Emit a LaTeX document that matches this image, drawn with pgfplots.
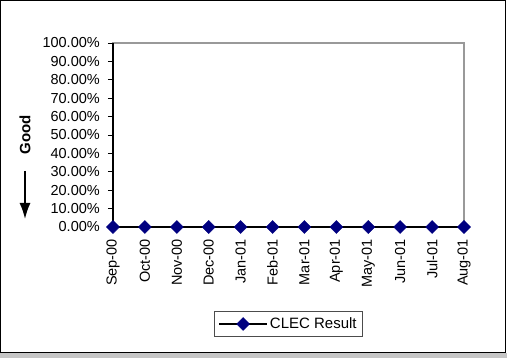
\documentclass[border=0pt]{standalone}
\usepackage{pgfplots}
\pgfplotsset{compat=1.18}
\usepackage{fontspec}
\setmainfont{Liberation Sans}
\usetikzlibrary{arrows.meta}
\definecolor{navymark}{HTML}{000080}
\definecolor{framegray}{HTML}{999999}

\begin{document}
\begin{tikzpicture}[x=1pt,y=1pt]
  \path[use as bounding box] (0,0) rectangle (507,358);
  \fill[gray!45] (0,0) rectangle (507,5);
  \draw[black,line width=1.2pt] (0.6,5.6) rectangle (505.4,357.4);

  \begin{axis}[
      at={(113pt,131pt)}, anchor=south west,
      scale only axis,
      width=351pt, height=184pt,
      xmin=0, xmax=11, ymin=0, ymax=1,
      xtick={0,...,11},
      xticklabels={Sep-00,Oct-00,Nov-00,Dec-00,Jan-01,Feb-01,Mar-01,Apr-01,May-01,Jun-01,Jul-01,Aug-01},
      xticklabel style={anchor=east, rotate=90, xshift=-6pt, font=\fontsize{14.5}{16}\selectfont, inner sep=1pt},
      ytick={0,0.1,...,1.01},
      ytick pos=left,
      yticklabel={\pgfmathparse{\tick*100}\pgfmathprintnumber[fixed,fixed zerofill,precision=2]{\pgfmathresult}\%},
      yticklabel style={font=\fontsize{14.5}{16}\selectfont, xshift=-7pt, inner sep=1pt},
      /pgf/number format/assume math mode=true,
      tick align=outside,
      x tick style={draw=none},
      y tick style={black, line width=0.8pt},
      major tick length=5pt,
      axis line style={framegray, line width=1.2pt},
      clip=false,
      legend style={at={(0.5,-0.527)}, anchor=center, draw=black!70, line width=0.8pt,
                    font=\fontsize{15}{17}\selectfont, inner xsep=4pt, inner ysep=4pt,
                    legend cell align=left},
      legend image code/.code={
        \draw[mark repeat=2, mark phase=2] plot coordinates {(0pt,0pt) (24pt,0pt) (48pt,0pt)};
      },
    ]
    \draw[black, line width=1.2pt] (rel axis cs:0,0) -- (rel axis cs:0,1);
    \addplot[black, line width=1.6pt, mark=square*, mark size=4.6pt,
             mark options={rotate=45, fill=navymark, draw=navymark, line width=0.4pt}]
      coordinates {(0,0) (1,0) (2,0) (3,0) (4,0) (5,0) (6,0) (7,0) (8,0) (9,0) (10,0) (11,0)};
    \addlegendentry{CLEC Result}
  \end{axis}

  \node[rotate=90, font=\bfseries\fontsize{15}{17}\selectfont] at (25,223) {Good};
  \draw[-{Latex[length=16pt,width=11pt]}, line width=1.6pt] (25,187) -- (25,139);
\end{tikzpicture}
\end{document}
